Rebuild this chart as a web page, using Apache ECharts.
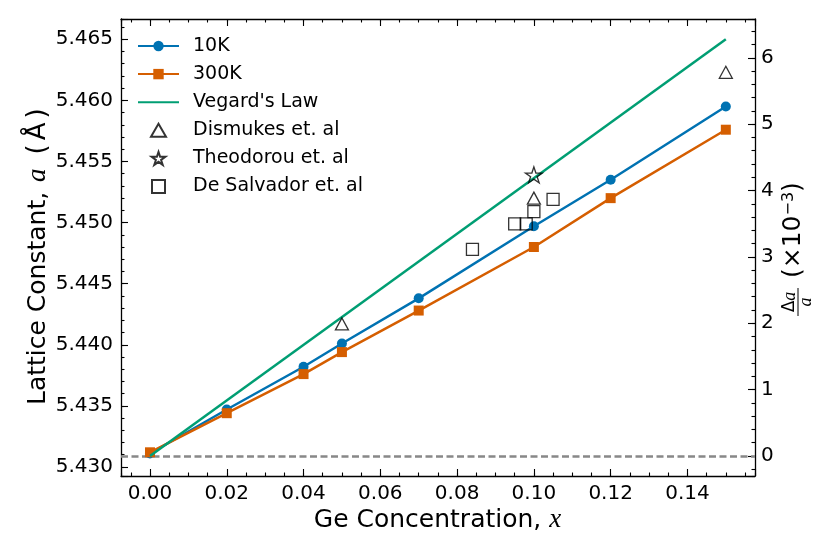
<!DOCTYPE html>
<html>
<head>
<meta charset="utf-8">
<script src="https://cdn.jsdelivr.net/npm/echarts@6/dist/echarts.min.js"></script>
<style>
html,body{margin:0;padding:0;background:#ffffff;}
#chart{width:830px;height:554px;}
</style>
</head>
<body>
<div id="chart"></div>
<script>
// ---------------- data ----------------
const geX        = [0, 0.02, 0.04, 0.05, 0.07, 0.10, 0.12, 0.15];
const a10K       = [5.4311, 5.4347, 5.4382, 5.4401, 5.4438, 5.4497, 5.4535, 5.4595];
const a300K      = [5.4312, 5.4344, 5.4376, 5.4394, 5.4428, 5.4480, 5.4520, 5.4576];
const vegardX    = [0, 0.15];
const vegardA    = [5.4309, 5.4650];
const dismukesX  = [0.05, 0.10, 0.15];
const dismukesA  = [5.4417, 5.4520, 5.4623];
const theodorouX = [0.10];
const theodorouA = [5.4539];
const salvadorX  = [0.084, 0.095, 0.098, 0.100, 0.105];
const salvadorA  = [5.4478, 5.4499, 5.4499, 5.4509, 5.4519];
const a0Si       = 5.4309;   // reference lattice constant (dashed line, right-axis zero)

const seriesNames = ['10K', '300K', "Vegard's Law", 'Dismukes et. al', 'Theodorou et. al', 'De Salvador et. al'];

// ---------------- layout / style ----------------
const X_MIN = -0.00755, X_MAX = 0.1576;
const Y_MIN = 5.42926,  Y_MAX = 5.46666;
const R_MIN = (Y_MIN / a0Si - 1) * 1000;
const R_MAX = (Y_MAX / a0Si - 1) * 1000;

const FONT = 'DejaVu Sans';
const BLUE = '#0072B2', ORANGE = '#D55E00', GREEN = '#009E73';

const TRI  = 'path://M5,0L10,8.66L0,8.66Z';
const SQR  = 'path://M0,0L10,0L10,10L0,10Z';
const STAR = 'path://M10,0L12.245,6.91L19.511,6.91L13.633,11.18L15.878,18.09L10,13.82L4.122,18.09L6.367,11.18L0.489,6.91L7.755,6.91Z';

function pairs(xs, ys) { return xs.map((x, i) => [x, ys[i]]); }
function isMult(v, step) { const q = v / step; return Math.abs(q - Math.round(q)) < 1e-6; }

function axis(opts) {
  return {
    type: 'value',
    min: opts.min, max: opts.max,
    minInterval: opts.step, maxInterval: opts.step,
    position: opts.position,
    offset: 0,
    scale: true,
    axisLine: { show: !!opts.line, onZero: false, lineStyle: { color: '#000', width: 1.3 } },
    axisTick: { show: true, inside: true, length: opts.tickLen, lineStyle: { color: '#000', width: 1.1 } },
    minorTick: { show: false },
    splitLine: { show: false },
    axisLabel: opts.label ? {
      show: true, fontFamily: FONT, fontSize: 20, color: '#000', margin: opts.margin,
      formatter: v => isMult(v, opts.step) ? Number(v).toFixed(opts.digits) : ''
    } : { show: false }
  };
}

const chart = echarts.init(document.getElementById('chart'), null, { renderer: 'canvas' });

const openStyle = { color: 'rgba(0,0,0,0)', borderColor: '#000', borderWidth: 1.3 };

const option = {
  animation: false,
  backgroundColor: '#ffffff',
  grid: { left: 121, right: 75, top: 19, bottom: 78, containLabel: false, outerBoundsMode: 'none' },
  legend: {
    data: [
      { name: seriesNames[0] },
      { name: seriesNames[1] },
      { name: seriesNames[2], itemStyle: { color: 'rgba(0,0,0,0)', borderWidth: 0, opacity: 0 } },
      { name: seriesNames[3] },
      { name: seriesNames[4] },
      { name: seriesNames[5] }
    ],
    orient: 'vertical',
    left: 137, top: 36.5, padding: 0,
    itemWidth: 41, itemHeight: 13, itemGap: 9.1,
    textStyle: { fontFamily: FONT, fontSize: 19, color: '#000', padding: [0, 0, 0, 9] },
    selectedMode: false
  },
  xAxis: [
    axis({ min: X_MIN, max: X_MAX, step: 0.02,  position: 'bottom', line: true, tickLen: 7, label: true, digits: 2, margin: 8 }),
    axis({ min: X_MIN, max: X_MAX, step: 0.005, position: 'bottom', line: false, tickLen: 3.5 }),
    axis({ min: X_MIN, max: X_MAX, step: 0.02,  position: 'top', line: true, tickLen: 7 }),
    axis({ min: X_MIN, max: X_MAX, step: 0.005, position: 'top', line: false, tickLen: 3.5 })
  ],
  yAxis: [
    axis({ min: Y_MIN, max: Y_MAX, step: 0.005, position: 'left', line: true, tickLen: 7, label: true, digits: 3, margin: 8 }),
    axis({ min: Y_MIN, max: Y_MAX, step: 0.001, position: 'left', line: false, tickLen: 3.5 }),
    axis({ min: R_MIN, max: R_MAX, step: 1,     position: 'right', line: true, tickLen: 7, label: true, digits: 0, margin: 6 }),
    axis({ min: R_MIN, max: R_MAX, step: 0.2,   position: 'right', line: false, tickLen: 3.5 })
  ],
  series: [
    {
      name: seriesNames[0], type: 'line', xAxisIndex: 0, yAxisIndex: 0,
      data: pairs(geX, a10K),
      symbol: 'circle', symbolSize: 10,
      lineStyle: { color: BLUE, width: 2.5 },
      itemStyle: { color: BLUE },
      z: 3,
      markLine: {
        silent: true, symbol: 'none', precision: 6, label: { show: false },
        lineStyle: { color: '#888888', type: [7, 3.5], width: 2.5 },
        data: [{ yAxis: a0Si }],
        z: 2
      }
    },
    {
      name: seriesNames[1], type: 'line', xAxisIndex: 0, yAxisIndex: 0,
      data: pairs(geX, a300K),
      symbol: 'rect', symbolSize: 10,
      lineStyle: { color: ORANGE, width: 2.5 },
      itemStyle: { color: ORANGE },
      z: 4
    },
    {
      name: seriesNames[2], type: 'line', xAxisIndex: 0, yAxisIndex: 0,
      data: pairs(vegardX, vegardA),
      symbol: 'none',
      lineStyle: { color: GREEN, width: 2.5 },
      itemStyle: { color: GREEN },
      z: 5
    },
    {
      name: seriesNames[3], type: 'scatter', xAxisIndex: 0, yAxisIndex: 0,
      data: pairs(dismukesX, dismukesA),
      symbol: TRI, symbolSize: [13, 12],
      itemStyle: openStyle,
      z: 6
    },
    {
      name: seriesNames[4], type: 'scatter', xAxisIndex: 0, yAxisIndex: 0,
      data: pairs(theodorouX, theodorouA),
      symbol: STAR, symbolSize: [17, 16],
      itemStyle: openStyle,
      z: 6
    },
    {
      name: seriesNames[5], type: 'scatter', xAxisIndex: 0, yAxisIndex: 0,
      data: pairs(salvadorX, salvadorA),
      symbol: SQR, symbolSize: 12,
      itemStyle: openStyle,
      z: 6
    }
  ],
  graphic: [
    {
      type: 'text', x: 437.5, y: 520, z: 100,
      style: {
        text: 'Ge Concentration, {i|x}',
        fontFamily: FONT, fontSize: 25, fill: '#000',
        align: 'center', verticalAlign: 'middle',
        rich: { i: { fontFamily: 'Liberation Serif', fontStyle: 'italic', fontSize: 27, fill: '#000' } }
      }
    },
    {
      type: 'text', x: 38, y: 256.7, rotation: Math.PI / 2, z: 100,
      style: {
        text: 'Lattice Constant, {i|a} {p|(}{A|Å}{p|)}',
        fontFamily: FONT, fontSize: 25, fill: '#000',
        align: 'center', verticalAlign: 'middle',
        rich: {
          i: { fontFamily: 'Liberation Serif', fontStyle: 'italic', fontSize: 27, fill: '#000', padding: [0, 6, 0, 2] },
          p: { fontFamily: FONT, fontSize: 26, fill: '#000' },
          A: { fontFamily: FONT, fontSize: 26, fill: '#000', padding: [0, 4, 0, 4] }
        }
      }
    },
    {
      type: 'group', x: 793, y: 250, rotation: Math.PI / 2, z: 100,
      children: [
        {
          type: 'text', x: -28, y: 0,
          style: {
            text: '(×10{s|−3})',
            fontFamily: FONT, fontSize: 25, fill: '#000',
            align: 'left', verticalAlign: 'middle',
            rich: { s: { fontFamily: FONT, fontSize: 16, lineHeight: 14, verticalAlign: 'top', fill: '#000' } }
          }
        },
        {
          type: 'text', x: -52, y: -3,
          style: {
            text: 'Δ{i|a}', fontFamily: FONT, fontSize: 17, fill: '#000',
            align: 'center', verticalAlign: 'middle',
            rich: { i: { fontFamily: 'Liberation Serif', fontStyle: 'italic', fontSize: 18, fill: '#000' } }
          }
        },
        {
          type: 'line', shape: { x1: -66, y1: 5, x2: -38, y2: 5 },
          style: { stroke: '#000', lineWidth: 1 }
        },
        {
          type: 'text', x: -52, y: 13,
          style: {
            text: 'a', fontFamily: 'Liberation Serif', fontStyle: 'italic', fontSize: 18, fill: '#000',
            align: 'center', verticalAlign: 'middle'
          }
        }
      ]
    }
  ]
};

chart.setOption(option);
</script>
</body>
</html>
